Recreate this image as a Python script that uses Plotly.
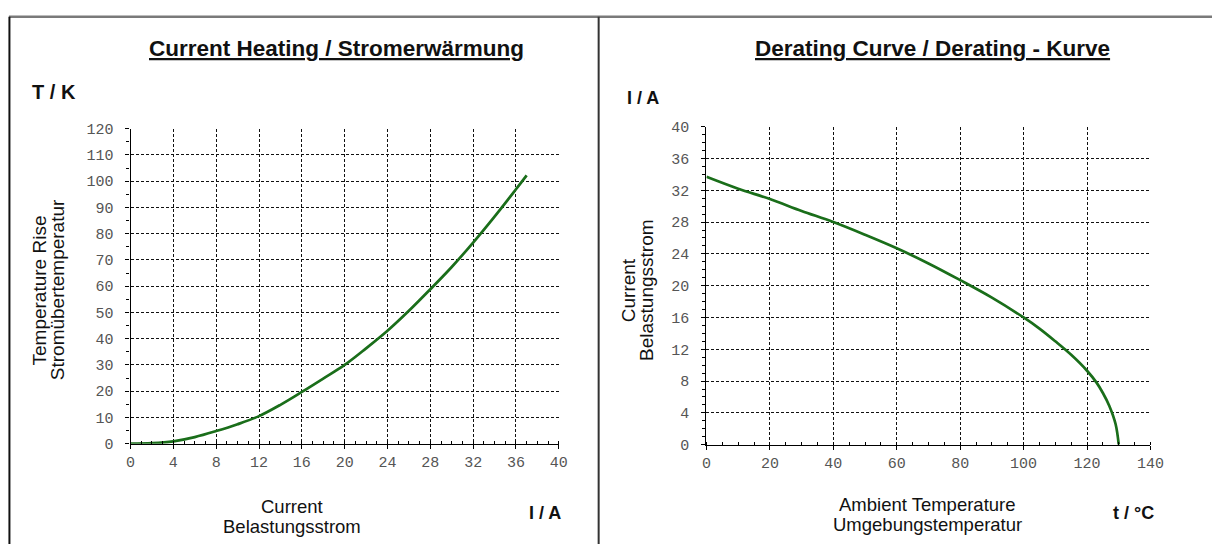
import plotly.graph_objects as go

# Current heating: temperature rise (K) vs. load current (A)
heat_current = [0, 2, 4, 6, 8, 10, 12, 14, 16, 18, 20, 22, 24, 26, 28, 30, 32, 34, 36, 37]
heat_rise = [0, 0.2, 0.9, 2.5, 4.8, 7.4, 10.5, 14.8, 19.7, 24.8, 30.0, 36.3, 43.0, 50.6,
             58.8, 67.3, 76.6, 86.5, 96.9, 102.2]

# Derating curve: permissible current (A) vs. ambient temperature (°C)
derate_temp = [0, 10, 20, 30, 40, 50, 60, 70, 80, 90, 100, 105, 110, 115, 120, 123, 125, 127, 129, 130]
derate_current = [33.7, 32.2, 30.9, 29.4, 28.0, 26.4, 24.7, 22.8, 20.7, 18.5, 16.0, 14.6, 13.0,
                  11.3, 9.3, 7.8, 6.5, 4.9, 2.6, 0]

heat_xticks = list(range(0, 41, 4))
heat_yticks = list(range(0, 121, 10))
derate_xticks = list(range(0, 141, 20))
derate_yticks = list(range(0, 41, 4))

W, H = 1226, 554
LINE = "#1a6e1a"
SANS = "Liberation Sans, Arial, sans-serif"
MONO = "Liberation Mono, Courier New, monospace"


def px(x):
    return x / W


def py(y):
    return 1 - y / H


fig = go.Figure()
fig.add_trace(go.Scatter(x=heat_current, y=heat_rise, mode="lines",
                         line=dict(color=LINE, width=2.7, shape="spline"),
                         xaxis="x", yaxis="y", showlegend=False))
fig.add_trace(go.Scatter(x=derate_temp, y=derate_current, mode="lines",
                         line=dict(color=LINE, width=2.7, shape="spline"),
                         xaxis="x2", yaxis="y2", showlegend=False))


def axis_style(ticks, rng, minor_step, minor_dir, domain, anchor):
    return dict(
        domain=domain, anchor=anchor, range=rng, tickvals=ticks,
        showline=True, linecolor="#000", linewidth=1.2,
        showgrid=True, gridcolor="#111", gridwidth=1, griddash="3px,2px",
        zeroline=False, ticks="outside", ticklen=4, tickcolor="#000", tickwidth=1,
        tickfont=dict(family=MONO, size=15, color="#555"),
        minor=dict(dtick=minor_step, ticks=minor_dir, ticklen=3, tickcolor="#000",
                   showgrid=False),
        fixedrange=True,
    )


fig.update_layout(
    width=W, height=H, margin=dict(l=0, r=0, t=0, b=0),
    paper_bgcolor="white", plot_bgcolor="white",
    xaxis=axis_style(heat_xticks, [0, 40], 1, "inside", [px(127.5), px(562.5)], "y"),
    yaxis=axis_style(heat_yticks, [0, 120], 5, "outside", [py(450.5), py(125.5)], "x"),
    xaxis2=axis_style(derate_xticks, [0, 140], 5, "inside", [px(712.5), px(1163.5)], "y2"),
    yaxis2=axis_style(derate_yticks, [0, 40], 1, "outside", [py(451.5), py(123.5)], "x2"),
)
fig.update_yaxes(ticklabelstandoff=9)
fig.update_xaxes(ticklabelstandoff=0)

# Panel frame
frame = [
    dict(x0=px(4), x1=1, y0=py(10), y1=py(10), color="#7a7a7a", w=2.5),
    dict(x0=px(4.5), x1=px(4.5), y0=py(10), y1=0, color="#111", w=2),
    dict(x0=px(603), x1=px(603), y0=py(10), y1=0, color="#333", w=2),
]
for f in frame:
    fig.add_shape(type="line", xref="paper", yref="paper", x0=f["x0"], x1=f["x1"],
                  y0=f["y0"], y1=f["y1"], line=dict(color=f["color"], width=f["w"]))


def note(text, x, y, size, bold=False, angle=0, xanchor="center", color="#111"):
    fig.add_annotation(text=f"<b>{text}</b>" if bold else text, x=px(x), y=py(y),
                       xref="paper", yref="paper", showarrow=False, textangle=angle,
                       xanchor=xanchor, yanchor="middle", align="center",
                       font=dict(family=SANS, size=size, color=color))


# Left panel texts
note("<u>Current Heating / Stromerwärmung</u>", 337, 43, 22.5, bold=True)
note("T / K", 25, 88, 20, bold=True, xanchor="left")
note("Temperature Rise", 35, 292, 19, angle=-90)
note("Stromübertemperatur", 53, 292, 19, angle=-90)
note("Current", 292, 515, 18.5)
note("Belastungsstrom", 292, 536, 18.5)
note("I / A", 548, 522, 18, bold=True)

# Right panel texts
note("<u>Derating Curve / Derating - Kurve</u>", 942, 43, 22.5, bold=True)
note("I / A", 630, 94, 18, bold=True, xanchor="left")
note("Current", 633, 292, 19, angle=-90)
note("Belastungsstrom", 651, 292, 19, angle=-90)
note("Ambient Temperature", 937, 513, 18.5)
note("Umgebungstemperatur", 937, 534, 18.5)
note("t / °C", 1146, 522, 18, bold=True)

fig.write_html("out.html")
